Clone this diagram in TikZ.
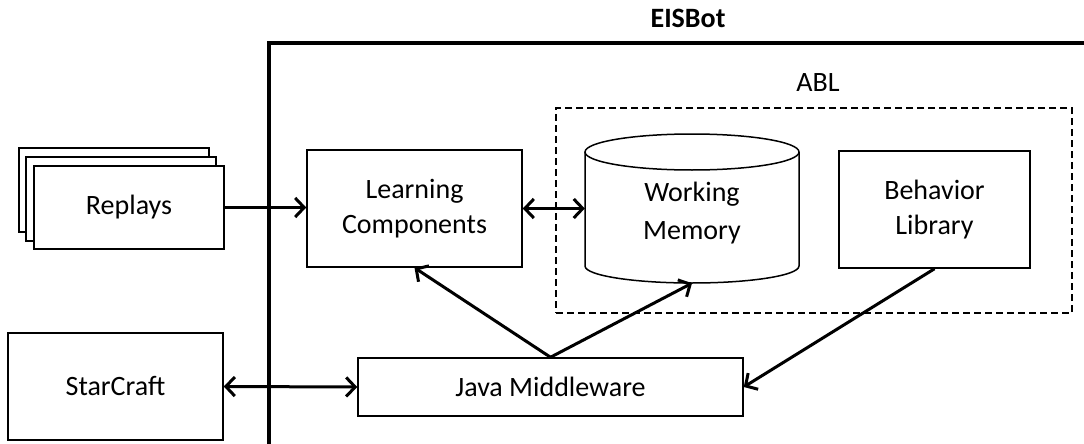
\documentclass[tikz,border=0pt]{standalone}
\usepackage{fontspec}
\setmainfont{Carlito}
\usetikzlibrary{arrows.meta}
\begin{document}
\begin{tikzpicture}[x=1pt,y=-1pt,
  lbl/.style={font=\fontsize{28}{35}\selectfont, align=center, inner sep=0pt},
  box/.style={draw, line width=1.5pt, fill=white, inner sep=0pt, align=center, font=\fontsize{28}{35}\selectfont},
  conn/.style={line width=3pt, -{Straight Barb[length=9pt,width=19pt]}},
  biconn/.style={line width=3pt, {Straight Barb[length=9pt,width=19pt]}-{Straight Barb[length=9pt,width=19pt]}}]
\useasboundingbox (0,0) rectangle (1084,444);
% EISBot frame
\draw[line width=3.3pt] (269,470) -- (269,43) -- (1110,43);
\node[lbl, font=\bfseries\fontsize{28}{35}\selectfont] (eis) at (688,18) {EISBot};
% ABL dashed region
\node[draw, line width=1.5pt, dash pattern=on 7pt off 4pt, minimum width=516pt, minimum height=205pt, inner sep=0pt] (ablbox) at (814,210.5) {};
\node[lbl] (abl) at (818,83) {ABL};
% Replays stack
\node[box, minimum width=190pt, minimum height=84pt] (rep3) at (114,190) {};
\node[box, minimum width=190pt, minimum height=84pt] (rep2) at (121,199) {};
\node[box, minimum width=190pt, minimum height=83pt] (rep) at (129,207.5) {Replays};
% Learning components
\node[box, minimum width=215pt, minimum height=117pt] (lc) at (414.5,208.5) {Learning\\Components};
% Working memory cylinder
\draw[line width=1.5pt, fill=white] (585,152) -- (585,266) arc[start angle=180, end angle=360, x radius=107pt, y radius=17pt] -- (799,152);
\draw[line width=1.5pt] (692,152) ellipse[x radius=107pt, y radius=18pt];
\node[inner sep=0pt, minimum width=214pt, minimum height=149pt] (wm) at (692,208.5) {};
\node[lbl, font=\fontsize{28}{38}\selectfont] (wmt) at (692,213) {Working\\Memory};
% Behavior library
\node[box, minimum width=191pt, minimum height=117pt] (bl) at (934.5,209.5) {Behavior\\Library};
% StarCraft
\node[box, minimum width=215pt, minimum height=107pt] (sc) at (115.5,386.5) {StarCraft};
% Java Middleware
\node[box, minimum width=385pt, minimum height=58pt] (jm) at (550.5,387) {Java Middleware};
% connectors
\draw[conn] (rep.east) -- (lc.west |- rep.east);
\draw[biconn] (lc.east) -- (wm.west |- lc.east);
\draw[biconn] (sc.east) -- (jm.west);
\draw[conn] (jm.north) -- (lc.south);
\draw[conn] (jm.north) -- (wm.south);
\draw[conn] (bl.south) -- (jm.east);
\end{tikzpicture}
\end{document}
